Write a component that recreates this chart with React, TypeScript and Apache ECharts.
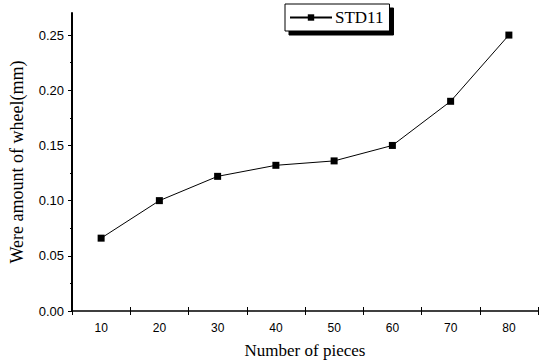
import React, { useEffect, useRef } from "react";
import * as echarts from "echarts";

const categories = ["10", "20", "30", "40", "50", "60", "70", "80"];
const wearValues = [0.066, 0.1, 0.122, 0.132, 0.136, 0.15, 0.19, 0.25];
const yTicks = [0, 0.05, 0.1, 0.15, 0.2, 0.25];
const seriesName = "STD11";

export default function App() {
  const ref = useRef<HTMLDivElement>(null);
  useEffect(() => {
    if (!ref.current) return;
    const chart = echarts.init(ref.current, null, { renderer: "svg" });
    const serif = "'Liberation Serif', 'Times New Roman', serif";
    const sans = "'Liberation Sans', Arial, sans-serif";
    const yBase = {
      type: "value",
      min: 0,
      max: 0.27,
      interval: 0.05,
      splitLine: { show: false },
    };
    chart.setOption({
      animation: false,
      backgroundColor: "#fff",
      grid: { left: 71, right: 12, top: 13, bottom: 49 },
      legend: {
        show: true,
        data: [seriesName],
        left: 285,
        top: 4,
        padding: [5, 6, 5, 4],
        itemWidth: 42,
        itemHeight: 8,
        itemGap: 2,
        backgroundColor: "#fff",
        borderColor: "#000",
        borderWidth: 1,
        shadowColor: "#000",
        shadowBlur: 0,
        shadowOffsetX: 4,
        shadowOffsetY: 4,
        textStyle: { fontFamily: serif, fontSize: 17, color: "#000", padding: [0, 0, 0, -2] },
      },
      xAxis: [
        {
          type: "category",
          data: categories,
          boundaryGap: true,
          name: "Number of pieces",
          nameLocation: "middle",
          nameGap: 31,
          nameTextStyle: { fontFamily: serif, fontSize: 17, color: "#000" },
          axisLine: { lineStyle: { color: "#000", width: 1.5 } },
          axisTick: { show: true, length: 4, inside: false, lineStyle: { color: "#000", width: 1 } },
          axisLabel: { fontFamily: sans, fontSize: 12, color: "#000", margin: 11 },
        },
        {
          type: "category",
          data: categories,
          boundaryGap: true,
          position: "bottom",
          axisLine: { show: false },
          axisTick: { show: true, length: 4, inside: true, lineStyle: { color: "#000", width: 1 } },
          axisLabel: { show: false },
        },
      ],
      yAxis: [
        {
          ...yBase,
          name: "Were amount of wheel(mm)",
          nameLocation: "middle",
          nameGap: 46,
          nameTextStyle: { fontFamily: serif, fontSize: 18, color: "#000" },
          axisLine: { show: true, lineStyle: { color: "#000", width: 2 } },
          axisTick: {
            show: true,
            length: 4,
            inside: false,
            customValues: yTicks,
            lineStyle: { color: "#000", width: 1 },
          },
          axisLabel: {
            fontFamily: sans,
            fontSize: 13,
            color: "#000",
            margin: 8,
            customValues: yTicks,
            formatter: (v: number) => v.toFixed(2),
          },
        },
        {
          ...yBase,
          position: "left",
          axisLine: { show: false },
          axisTick: { show: false },
          axisLabel: { show: false },
          minorTick: { show: true, splitNumber: 2, length: 2, lineStyle: { color: "#000", width: 1 } },
        },
      ],
      series: [
        {
          name: seriesName,
          type: "line",
          data: wearValues,
          symbol: "rect",
          symbolSize: 7,
          lineStyle: { color: "#000", width: 1 },
          itemStyle: { color: "#000" },
        },
      ],
    });
    return () => chart.dispose();
  }, []);
  return <div ref={ref} style={{ position: "fixed", left: 0, top: 0, width: 550, height: 364 }} />;
}
